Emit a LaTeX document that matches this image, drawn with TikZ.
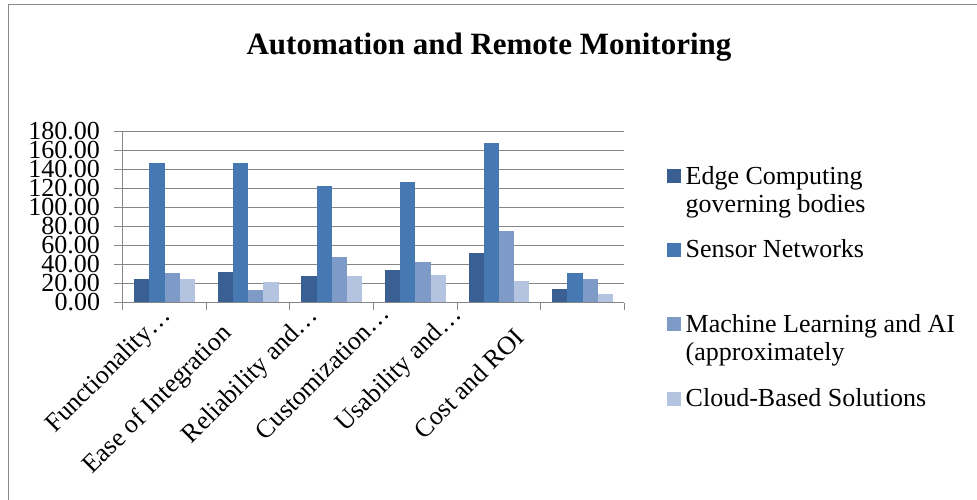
\documentclass[tikz,border=0pt]{standalone}
\usepackage{fontspec}
\setmainfont{Liberation Serif}
\definecolor{sA}{HTML}{3A6093}
\definecolor{sB}{HTML}{4678B1}
\definecolor{sC}{HTML}{7E9BC8}
\definecolor{sD}{HTML}{B4C4E0}
\definecolor{gridc}{HTML}{868686}
\definecolor{framec}{HTML}{888888}
\begin{document}
\begin{tikzpicture}[x=1bp,y=-1bp,
  lbl/.style={font=\fontsize{26bp}{27.7bp}\selectfont, inner sep=0pt, outer sep=0pt},
  catlbl/.style={lbl, anchor=base, rotate=45},
  gridline/.style={draw=gridc, line width=1.1bp},
  legsq/.style={inner sep=0pt, minimum size=14bp, anchor=south west}]
\useasboundingbox (0,0) rectangle (977,500);
\fill[white] (0,0) rectangle (977,500);
\draw[framec, line width=1.4bp] (8.5,500) -- (8.5,4.7) -- (977,4.7);
% title
\node[font=\fontsize{31bp}{34bp}\selectfont\bfseries, anchor=base, inner sep=0pt] (title) at (489,54.3) {Automation and Remote Monitoring};
% gridlines and y labels
\foreach \v [count=\k from 0] in {0.00,20.00,40.00,60.00,80.00,100.00,120.00,140.00,160.00,180.00} {
  \draw[gridline] (114,{302.7-19*\k}) -- (624.3,{302.7-19*\k});
  \node[lbl, anchor=base east] (y\k) at (100,{302.7-19*\k+7.8}) {\v};
}
\draw[gridline] (122.7,131.7) -- (122.7,302.7);
\foreach \i in {0,...,6} \draw[gridline] ({122.7+83.6*\i},302.7) -- ++(0,7.5);
% bars
\foreach \a/\b/\c/\d [count=\i from 0] in {24.6/147.4/31.3/25, 32.6/146.7/13.4/21.8, 28.1/123.2/48.1/28.1, 34.7/127.4/42.5/29.5, 52.6/167.8/75.5/22.8, 14.4/31.6/24.6/9.5} {
  \pgfmathsetmacro{\xs}{122.7+83.6*\i+11.4}
  \fill[sA] (\xs,302.7) rectangle ++(15.2,{-0.95*\a});
  \fill[sB] ({\xs+15.2},302.7) rectangle ++(15.2,{-0.95*\b});
  \fill[sC] ({\xs+30.4},302.7) rectangle ++(15.2,{-0.95*\c});
  \fill[sD] ({\xs+45.6},302.7) rectangle ++(15.2,{-0.95*\d});
}
\draw[gridline] (114,302.7) -- (624.3,302.7);
% category labels
\node[catlbl] (c1) at (113.4,374.9) {Functionality…};
\node[catlbl] (c2) at (162.5,404.7) {Ease of Integration};
\node[catlbl] (c3) at (255.5,380.5) {Reliability and…};
\node[catlbl] (c4) at (328.4,378.4) {Customization…};
\node[catlbl] (c5) at (404,374.2) {Usability and…};
\node[catlbl] (c6) at (475,389.5) {Cost and ROI};
% legend
\node[legsq, fill=sA] (k1) at (666.7,183) {};
\node[lbl, anchor=base west, align=left] (l1) at (685.7,212.7) {Edge Computing\\governing bodies};
\node[legsq, fill=sB] (k2) at (666.7,257) {};
\node[lbl, anchor=base west] (l2) at (685.7,257.7) {Sensor Networks};
\node[legsq, fill=sC] (k3) at (666.7,331) {};
\node[lbl, anchor=base west, align=left] (l3) at (685.7,360.7) {Machine Learning and AI\\(approximately};
\node[legsq, fill=sD] (k4) at (666.7,406) {};
\node[lbl, anchor=base west] (l4) at (685.7,406.7) {Cloud-Based Solutions};
\end{tikzpicture}
\end{document}
